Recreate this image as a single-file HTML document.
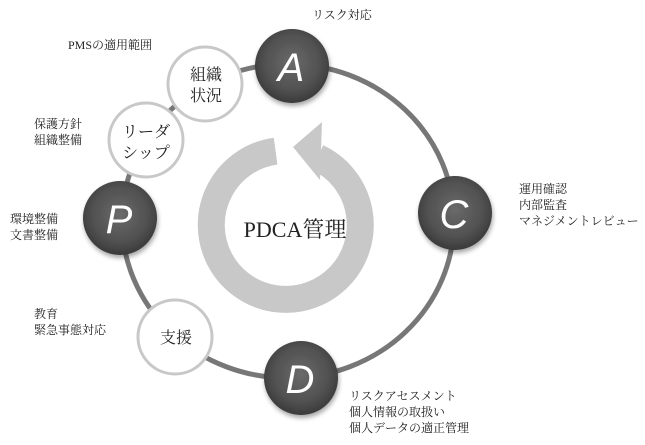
<!DOCTYPE html>
<html><head><meta charset="utf-8"><style>
html,body{margin:0;padding:0;background:#fff;}
svg{display:block}
text{font-family:"Liberation Serif","Noto Serif CJK JP","Noto Serif CJK SC",serif;fill:#222}
.l{font-size:12px}
.c{font-size:16px}
.big{font-family:"Liberation Sans","DejaVu Sans",sans-serif;font-style:italic;font-size:40px;fill:#fff}
</style></head><body>
<svg width="645" height="445" viewBox="0 0 645 445" xmlns="http://www.w3.org/2000/svg">
<defs>
<radialGradient id="g" cx="50%" cy="45%" r="55%">
<stop offset="0%" stop-color="#6a6a6a"/><stop offset="70%" stop-color="#505050"/><stop offset="100%" stop-color="#3a3a3a"/>
</radialGradient>
<filter id="s" x="-30%" y="-30%" width="160%" height="160%"><feDropShadow dx="1" dy="3" stdDeviation="2.5" flood-color="#000" flood-opacity="0.35"/></filter>
</defs>
<ellipse cx="288" cy="221" rx="166" ry="157" fill="none" stroke="#777" stroke-width="5"/>
<!-- inner ring arrow -->
<path d="M 275.6 151.1 A 74.5 74.5 0 1 0 317.5 157.5" fill="none" stroke="#c8c8c8" stroke-width="27"/>
<polygon points="322,122 320,180 293,147" fill="#c8c8c8"/>
<text x="295" y="237" text-anchor="middle" style="font-size:22px">PDCA管理</text>
<!-- white circles -->
<circle cx="205" cy="84" r="37" fill="#fff" stroke="#c8c8c8" stroke-width="3"/>
<circle cx="146" cy="140" r="37" fill="#fff" stroke="#c8c8c8" stroke-width="3"/>
<circle cx="175" cy="337" r="37" fill="#fff" stroke="#c8c8c8" stroke-width="3"/>
<text class="c" x="206" y="80" text-anchor="middle">組織</text>
<text class="c" x="206" y="101" text-anchor="middle">状況</text>
<text class="c" x="146" y="137" text-anchor="middle">リーダ</text>
<text class="c" x="146" y="158" text-anchor="middle">シップ</text>
<text class="c" x="176" y="343" text-anchor="middle">支援</text>
<!-- dark circles -->
<g filter="url(#s)">
<circle cx="292" cy="66" r="37" fill="url(#g)"/>
<circle cx="455" cy="213" r="37" fill="url(#g)"/>
<circle cx="301" cy="378" r="37" fill="url(#g)"/>
<circle cx="120" cy="218" r="37" fill="url(#g)"/>
</g>
<text class="big" x="291" y="81" text-anchor="middle">A</text>
<text class="big" x="454" y="228" text-anchor="middle">C</text>
<text class="big" x="300" y="393" text-anchor="middle">D</text>
<text class="big" x="119" y="233" text-anchor="middle">P</text>
<!-- labels -->
<text class="l" x="312" y="19">リスク対応</text>
<text class="l" x="68" y="49">PMSの適用範囲</text>
<text class="l" x="34" y="128">保護方針</text>
<text class="l" x="34" y="144">組織整備</text>
<text class="l" x="10" y="223">環境整備</text>
<text class="l" x="10" y="239">文書整備</text>
<text class="l" x="34" y="318">教育</text>
<text class="l" x="34" y="334">緊急事態対応</text>
<text class="l" x="519" y="193">運用確認</text>
<text class="l" x="519" y="209">内部監査</text>
<text class="l" x="519" y="225">マネジメントレビュー</text>
<text class="l" x="349" y="400">リスクアセスメント</text>
<text class="l" x="349" y="416">個人情報の取扱い</text>
<text class="l" x="349" y="432">個人データの適正管理</text>
</svg>
</body></html>
